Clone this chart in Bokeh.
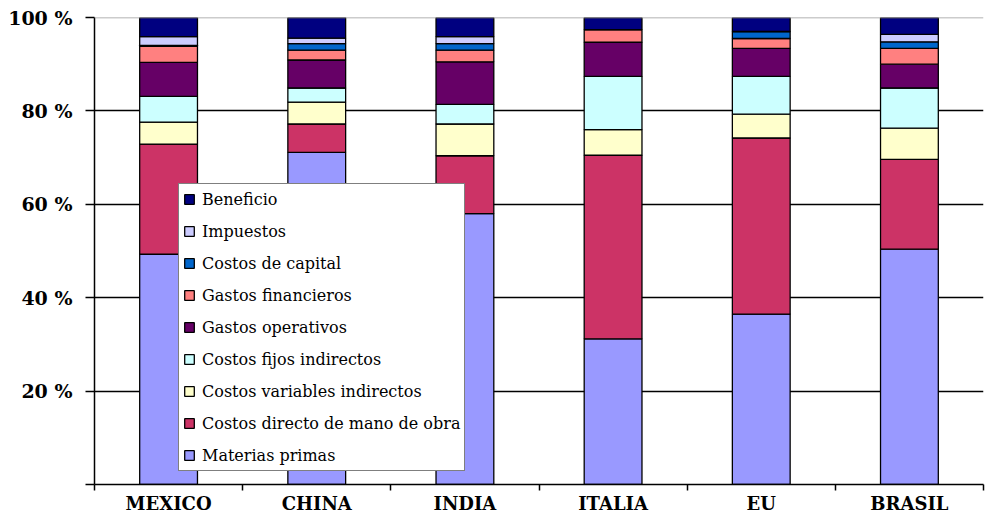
from bokeh.plotting import figure
from bokeh.models import (Range1d, FixedTicker, Legend, LegendItem, Span)
from bokeh.embed import file_html
from bokeh.resources import INLINE

countries = ["MEXICO", "CHINA", "INDIA", "ITALIA", "EU", "BRASIL"]

materias_primas = [49.3, 71.1, 58.0, 31.2, 36.5, 50.4]
mano_de_obra = [23.6, 6.1, 12.4, 39.3, 37.7, 19.2]
variables_indirectos = [4.7, 4.7, 6.8, 5.5, 5.1, 6.7]
fijos_indirectos = [5.5, 3.0, 4.2, 11.4, 8.1, 8.6]
gastos_operativos = [7.3, 6.0, 9.1, 7.3, 6.0, 5.1]
gastos_financieros = [3.4, 2.1, 2.5, 2.7, 2.1, 3.4]
costos_capital = [0.2, 1.4, 1.4, 0.0, 1.5, 1.4]
impuestos = [1.9, 1.2, 1.5, 0.0, 0.0, 1.6]
beneficio = [4.1, 4.4, 4.1, 2.6, 3.0, 3.6]

series_names = ["Materias primas", "Costos directo de mano de obra",
                "Costos variables indirectos", "Costos fijos indirectos",
                "Gastos operativos", "Gastos financieros", "Costos de capital",
                "Impuestos", "Beneficio"]
series_values = [materias_primas, mano_de_obra, variables_indirectos,
                 fijos_indirectos, gastos_operativos, gastos_financieros,
                 costos_capital, impuestos, beneficio]
colors = ["#9999FF", "#CC3366", "#FFFFCC", "#CCFFFF", "#660066",
          "#FF8080", "#0066CC", "#CCCCFF", "#000080"]

y_ticks = [0, 20, 40, 60, 80, 100]
y_labels = {0: "", 20: "20 %", 40: "40 %", 60: "60 %", 80: "80 %", 100: "100 %"}

serif = "DejaVu Serif"

p = figure(width=1006, height=516, output_backend="svg", toolbar_location=None,
           x_range=Range1d(0, 6), y_range=Range1d(0, 100),
           min_border_left=94, min_border_right=23, min_border_top=17,
           min_border_bottom=28)
p.outline_line_color = None
p.background_fill_color = "white"
p.border_fill_color = "white"

xs = [i + 0.5 for i in range(len(countries))]
data = {"x": xs}
keys = []
for i, vals in enumerate(series_values):
    k = f"s{i}"
    keys.append(k)
    data[k] = vals

renderers = p.vbar_stack(keys, x="x", width=0.39, color=colors, source=data,
                         line_color="black", line_width=1.3)

# grid
p.xgrid.visible = False
p.ygrid.ticker = FixedTicker(ticks=[20, 40, 60, 80])
p.ygrid.grid_line_color = "black"
p.ygrid.grid_line_width = 1.3
p.add_layout(Span(location=100, dimension="width", line_color="#999999",
                  line_width=1.5), "center")

# y axis
p.yaxis.ticker = FixedTicker(ticks=y_ticks)
p.yaxis.major_label_overrides = y_labels
p.yaxis.major_label_text_font = serif
p.yaxis.major_label_text_font_style = "bold"
p.yaxis.major_label_text_font_size = "19px"
p.yaxis.major_label_text_color = "black"
p.yaxis.major_tick_out = 9
p.yaxis.major_tick_in = 0
p.yaxis.minor_tick_line_color = None
p.yaxis.axis_line_width = 1.5
p.yaxis.major_tick_line_width = 1.5
p.yaxis.major_label_standoff = 13

# x axis
p.xaxis.ticker = FixedTicker(ticks=xs, minor_ticks=list(range(7)))
p.xaxis.major_label_overrides = {x: c for x, c in zip(xs, countries)}
p.xaxis.major_tick_out = 0
p.xaxis.major_tick_in = 0
p.xaxis.minor_tick_out = 6
p.xaxis.minor_tick_in = 0
p.xaxis.minor_tick_line_color = "black"
p.xaxis.minor_tick_line_width = 1.5
p.xaxis.axis_line_width = 1.5
p.xaxis.major_label_text_font = serif
p.xaxis.major_label_text_font_style = "bold"
p.xaxis.major_label_text_font_size = "18px"
p.xaxis.major_label_text_color = "black"
p.xaxis.major_label_standoff = 2

# legend
items = [LegendItem(label=n, renderers=[r]) for n, r in zip(series_names, renderers)]
items.reverse()
legend = Legend(items=items, location=(84, 13), orientation="vertical",
                label_text_font=serif, label_text_font_size="16px",
                label_text_color="black", label_height=22, glyph_height=12,
                glyph_width=12, spacing=10, padding=4, margin=0,
                label_standoff=7, border_line_color="black",
                border_line_width=1.5, background_fill_alpha=1.0,
                background_fill_color="white")
p.add_layout(legend, "center")

open("out.html", "w").write(file_html(p, INLINE))
